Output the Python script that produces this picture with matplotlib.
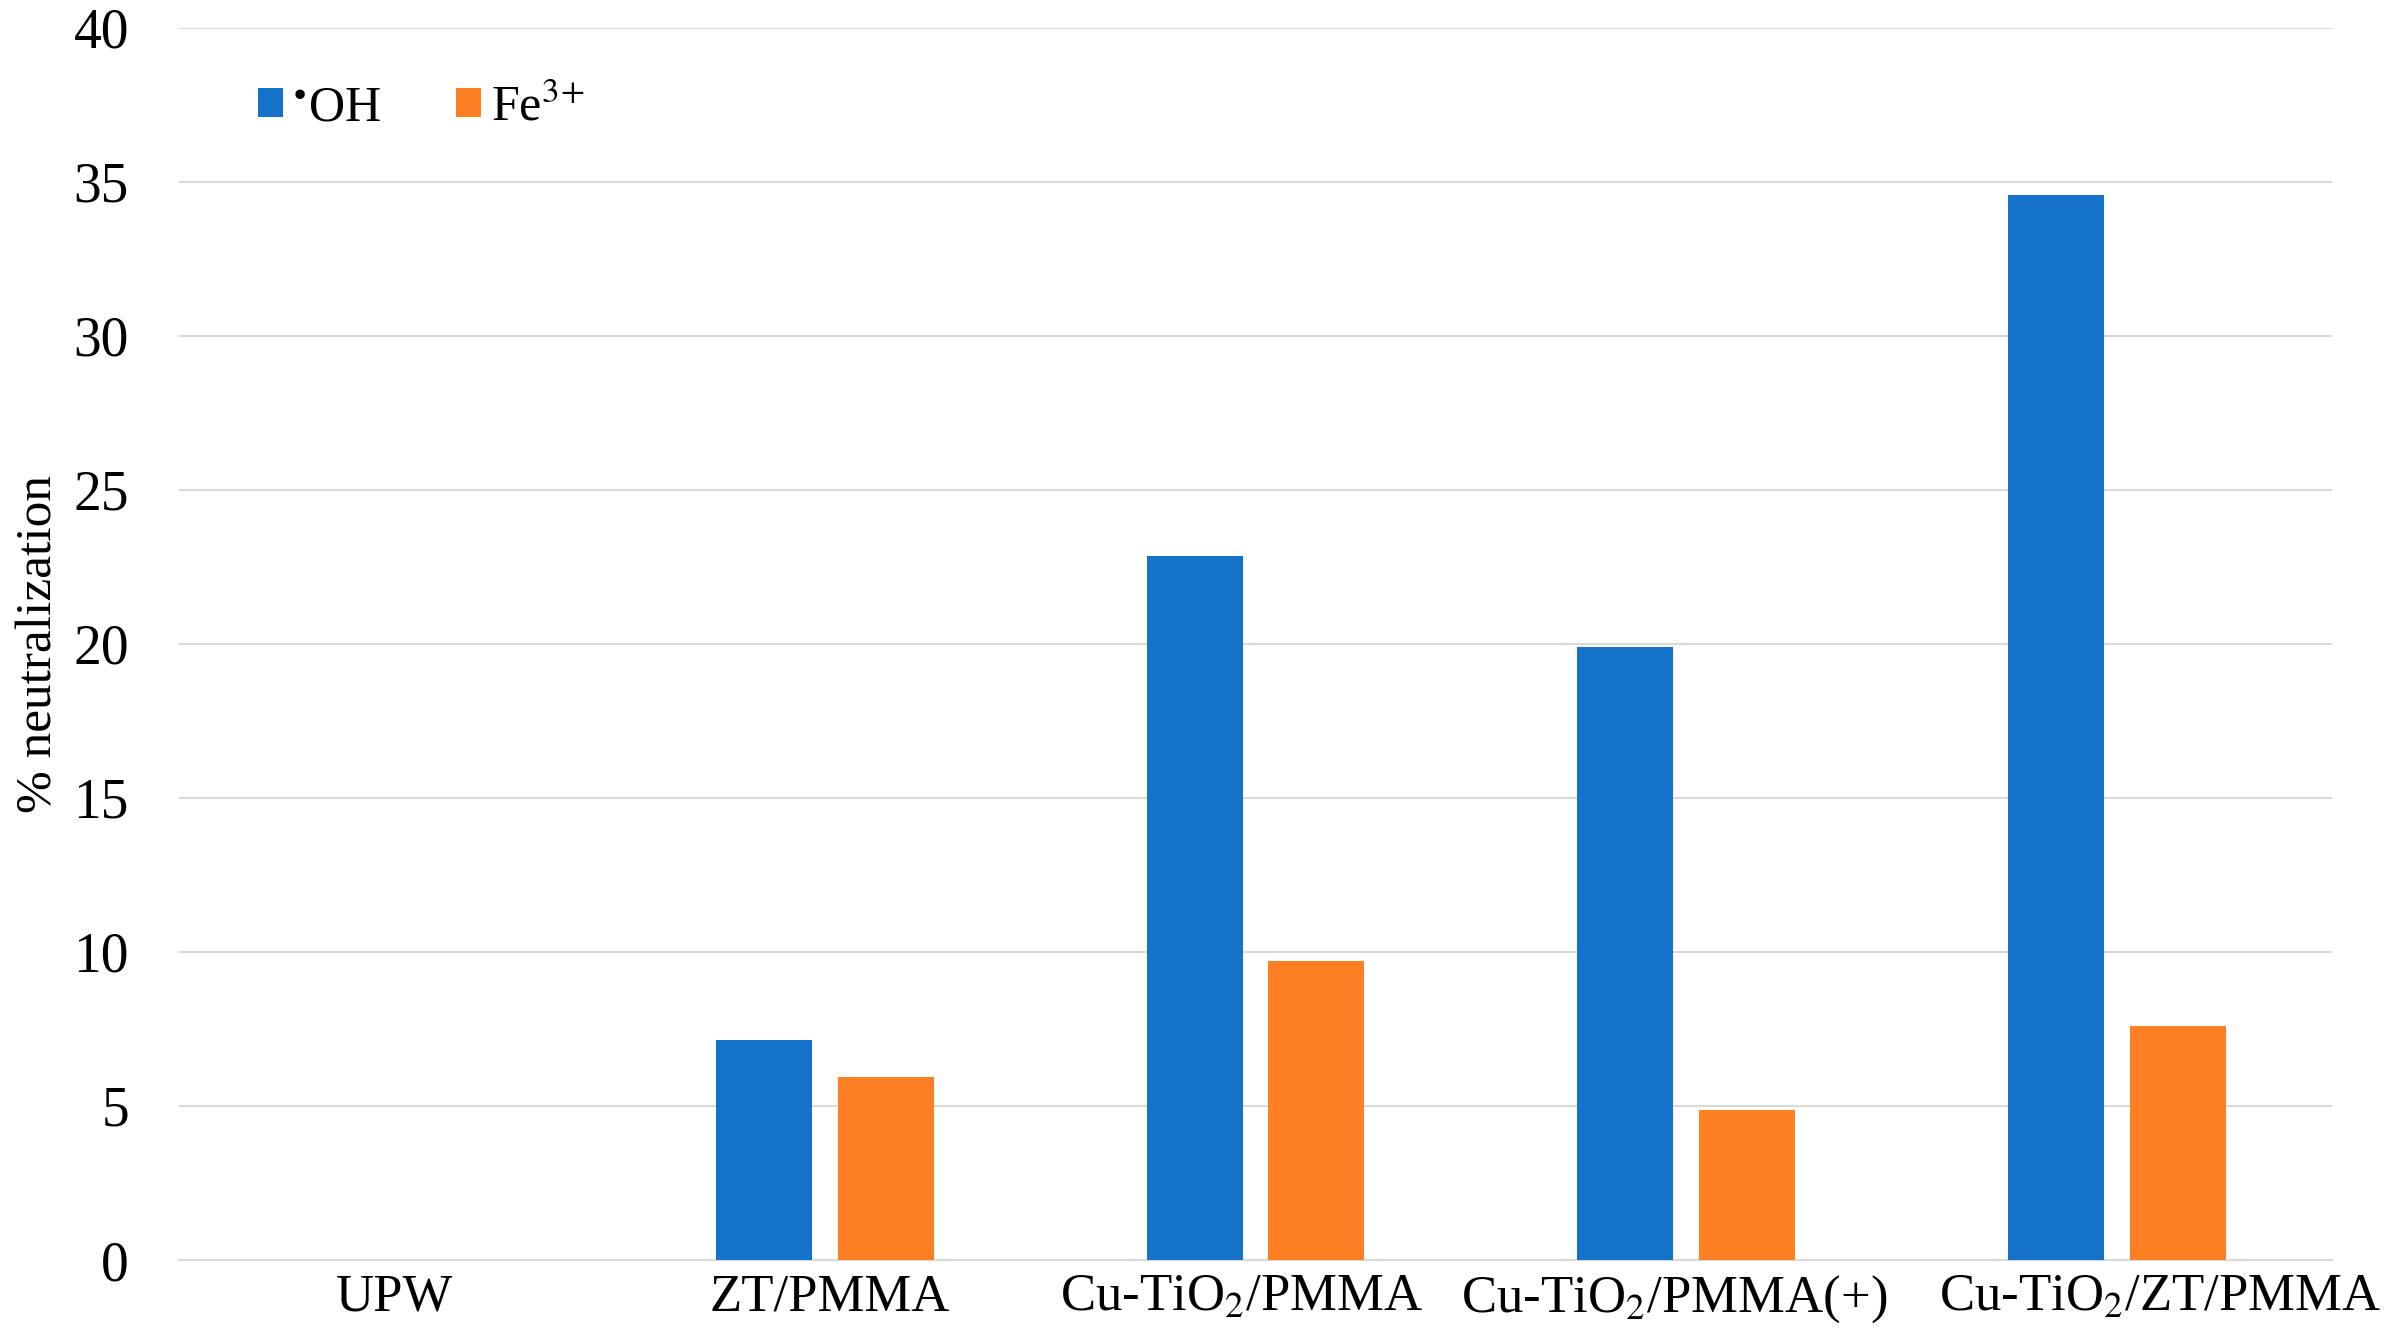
import numpy as np
import matplotlib
matplotlib.use("Agg")
import matplotlib.pyplot as plt
import matplotlib.transforms as mtransforms

# datos
categories = ["UPW", "ZT/PMMA", "Cu-TiO$_2$/PMMA", "Cu-TiO$_2$/PMMA(+)", "Cu-TiO$_2$/ZT/PMMA"]
oh_values = [0.0, 7.14, 22.85, 19.88, 34.55]
fe_values = [0.0, 5.95, 9.71, 4.86, 7.58]
series_labels = [r"$^{\bullet}$OH", r"Fe$^{3\!+}$"]
yticks = [0, 5, 10, 15, 20, 25, 30, 35, 40]

plt.rcParams["font.family"] = "Liberation Serif"
plt.rcParams["mathtext.fontset"] = "stix"

fig = plt.figure(figsize=(23.95, 13.42), dpi=100)
ax = fig.add_axes([0.0747, 0.0611, 0.899, 0.9184])

x = np.arange(len(categories))
width = 0.223
offset = 0.1415
ax.bar(x - offset, oh_values, width, color="#1572C9", label=series_labels[0], zorder=3)
ax.bar(x + offset, fe_values, width, color="#FF7F24", label=series_labels[1], zorder=3)

ax.set_xlim(-0.5, len(categories) - 0.5)
ax.set_ylim(0, 40)
ax.set_yticks(yticks)
ax.set_xticks(x)
ax.set_xticklabels(categories, fontsize=38)
ax.tick_params(axis="y", labelsize=40, length=0, pad=36)
ax.tick_params(axis="x", length=0, pad=10)
ax.grid(axis="y", color="#D9D9D9", linewidth=1.5, zorder=0)

# la última etiqueta está algo desplazada a la derecha en el original
lbls = ax.get_xticklabels()
shifts = [0, 5, -14, -12, 44]
for lbl, dx in zip(lbls, shifts):
    lbl.set_transform(lbl.get_transform() + mtransforms.Affine2D().translate(dx, 0))

for side in ["top", "right", "left"]:
    ax.spines[side].set_visible(False)
ax.spines["bottom"].set_color("#D9D9D9")
ax.spines["bottom"].set_linewidth(1.5)

ax.set_ylabel("% neutralization", fontsize=37, labelpad=8)

ax.legend(loc="upper left", bbox_to_anchor=(0.016, 0.99), ncol=2, frameon=False,
          fontsize=36, handlelength=0.5, handleheight=0.5, handletextpad=0.2,
          columnspacing=1.5)

fig.savefig("out.png", dpi=100)
plt.close(fig)
